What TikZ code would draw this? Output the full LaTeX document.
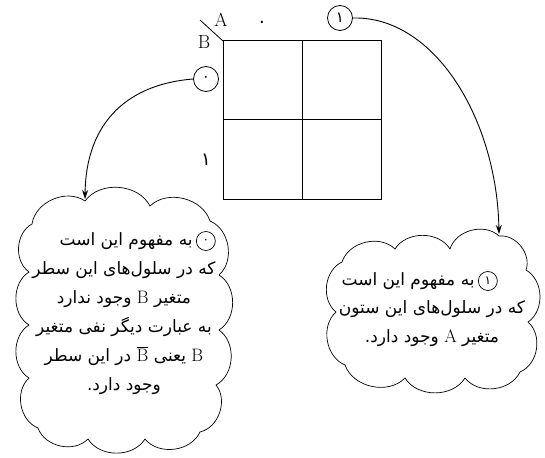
\documentclass[tikz,border=0pt]{standalone}
\usepackage{fontspec}
\usetikzlibrary{arrows.meta}
\TeXXeTstate=1
\newfontfamily\arabicfont[Script=Arabic]{DejaVu Sans}
\newcommand\lat[1]{\beginL{\normalfont\fontsize{18}{18}\selectfont #1}\endL{}}
\begin{document}
\begin{tikzpicture}[x=1pt,y=-1pt,line width=0.8pt,
  puff/.style={bend left=58},
  cloudline/.style={line width=0.7pt},
  fatext/.style={align=center,font=\arabicfont\fontsize{17}{29}\selectfont,inner sep=0pt},
  latlabel/.style={font=\fontsize{19}{19}\selectfont,inner sep=0pt},
  falabel/.style={font=\arabicfont\fontsize{18}{18}\selectfont,inner sep=0pt},
  marker/.style={draw,circle,inner sep=0pt,minimum size=25pt,line width=0.8pt,font=\arabicfont\fontsize{15}{15}\selectfont},
  inmark/.style={draw,circle,inner sep=0pt,minimum size=19pt,line width=0.7pt,font=\arabicfont\fontsize{12}{12}\selectfont},
  conn/.style={line width=0.9pt,-{Stealth[length=9pt,width=6pt]}}]
\useasboundingbox (0,0) rectangle (545,457);
% grid
\coordinate (tl) at (223,41);
\coordinate (br) at (381,199);
\draw[line width=1pt] (tl) rectangle (br);
\draw[line width=1pt] (302,41) -- (302,199);
\draw[line width=1pt] (223,120) -- (381,120);
\coordinate (diag) at (200,20);
\draw (tl) -- (diag);
\node[latlabel] (A) at (221,20) {A};
\node[latlabel] (B) at (204,42) {B};
\node[falabel] (col0) at (262,24) {۰};
\node[falabel] (row1) at (206,160) {۱};
% markers
\node[marker] (c1) at (340,18) {۱};
\node[marker] (c0) at (206,79) {۰};
% left cloud
\draw[cloudline] (32,224) to[puff] (85,201) to[puff] (150,206) to[puff] (210,221)
  to[puff] (219,275) to[puff] (219,330) to[puff] (216,385) to[puff] (200,432)
  to[puff] (145,439) to[puff] (88,439) to[puff] (38,428) to[puff] (29,378)
  to[puff] (29,325) to[puff] (29,272) to[puff] cycle;
% right cloud
\draw[cloudline] (342,262) to[puff] (395,249) to[puff] (450,249) to[puff] (499,236)
  to[puff] (526,270) to[puff] (528,322) to[puff] (520,372) to[puff] (465,378)
  to[puff] (405,378) to[puff] (345,365) to[puff] (336,312) to[puff] cycle;
% left text
\node[fatext,anchor=east] (lt1) at (193,241) {\beginR به مفهوم این است\endR};
\node[inmark,anchor=west] (lm) at ([xshift=3pt]lt1.east) {۰};
\node[fatext] (lt) at (124,328) {%
\beginR که در سلول‌های این سطر\endR\\
\beginR متغیر \lat{B} وجود ندارد\endR\\
\beginR به عبارت دیگر نفی متغیر\endR\\
\beginR\lat{B} یعنی \lat{$\overline{\mathrm{B}}$} در این سطر\endR\\
\beginR وجود دارد.\endR};
% right text
\node[fatext,anchor=east] (rt1) at (475,281) {\beginR به مفهوم این است\endR};
\node[inmark,anchor=west] (rm) at ([xshift=3pt]rt1.east) {۱};
\node[fatext] (rt) at (432,324) {%
\beginR که در سلول‌های این ستون\endR\\
\beginR متغیر \lat{A} وجود دارد.\endR};
% connectors
\coordinate (rtip) at (499,234);
\coordinate (ltip) at (85,199);
\draw[conn] (c1.east) .. controls (435,16) and (497,120) .. (rtip);
\draw[conn] (c0.west) .. controls (130,84) and (86,120) .. (ltip);
\end{tikzpicture}
\end{document}
